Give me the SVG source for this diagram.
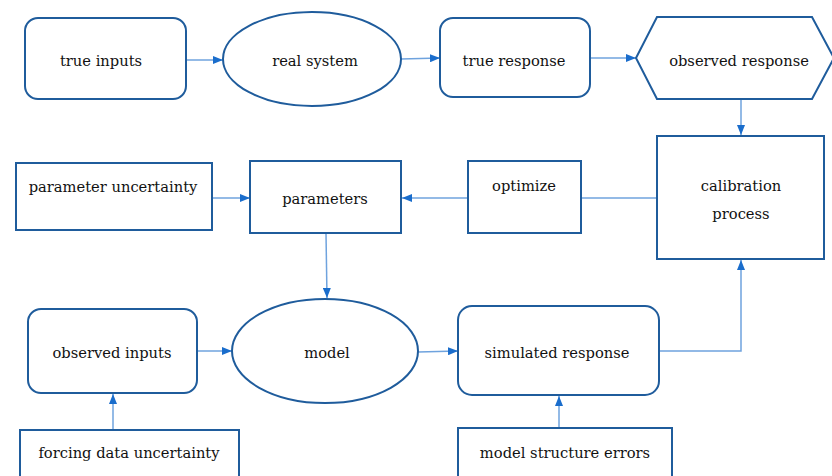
<svg xmlns="http://www.w3.org/2000/svg" width="832" height="476" viewBox="0 0 832 476">
<style>
.n{fill:#fff;stroke:#1f5c9c;stroke-width:2}
text{font-family:'DejaVu Serif',serif;font-size:14.7px;fill:#111;text-anchor:middle}
.c{fill:none;stroke:#6fa3de;stroke-width:1.5}
</style>
<defs>
<marker id="ah" markerWidth="10" markerHeight="8" refX="10" refY="4" orient="auto" markerUnits="userSpaceOnUse">
<path d="M0,0 L10,4 L0,8 Z" fill="#1a6dcc"/>
</marker>
</defs>
<rect width="832" height="476" fill="#fff"/>
<g id="connectors">
<line class="c" x1="186" y1="60" x2="223" y2="60" marker-end="url(#ah)"/>
<line class="c" x1="401" y1="59" x2="440" y2="58" marker-end="url(#ah)"/>
<line class="c" x1="590" y1="58" x2="636" y2="58" marker-end="url(#ah)"/>
<line class="c" x1="741" y1="100" x2="741" y2="135" marker-end="url(#ah)"/>
<line class="c" x1="657" y1="198" x2="581" y2="198"/>
<line class="c" x1="468" y1="198" x2="402" y2="198" marker-end="url(#ah)"/>
<line class="c" x1="212" y1="198" x2="250" y2="198" marker-end="url(#ah)"/>
<line class="c" x1="326" y1="233" x2="327" y2="298" marker-end="url(#ah)"/>
<line class="c" x1="197" y1="351" x2="232" y2="351" marker-end="url(#ah)"/>
<line class="c" x1="113" y1="430" x2="113" y2="394" marker-end="url(#ah)"/>
<line class="c" x1="418" y1="352" x2="458" y2="351" marker-end="url(#ah)"/>
<polyline class="c" points="659,351 741,351 741,260" marker-end="url(#ah)"/>
<line class="c" x1="559" y1="428" x2="559" y2="396" marker-end="url(#ah)"/>
</g>
<g id="true-inputs"><rect class="n" x="25" y="18" width="161" height="81" rx="13"/><text x="101" y="66">true inputs</text></g>
<g id="real-system"><ellipse class="n" cx="312" cy="59" rx="89" ry="47"/><text x="315" y="66">real system</text></g>
<g id="true-response"><rect class="n" x="440" y="18" width="150" height="79" rx="13"/><text x="514" y="66">true response</text></g>
<g id="observed-response"><polygon class="n" points="636,58 657,17 812,17 834,58 812,99 657,99"/><text x="739" y="66">observed response</text></g>
<g id="calibration-process"><rect class="n" x="657" y="136" width="167" height="123"/><text x="741" y="191">calibration</text><text x="741" y="219">process</text></g>
<g id="optimize"><rect class="n" x="468" y="161" width="113" height="72"/><text x="524" y="191">optimize</text></g>
<g id="parameters"><rect class="n" x="250" y="161" width="151" height="72"/><text x="325" y="204">parameters</text></g>
<g id="parameter-uncertainty"><rect class="n" x="16" y="163" width="196" height="67"/><text x="113" y="192">parameter uncertainty</text></g>
<g id="model"><ellipse class="n" cx="325" cy="351" rx="93" ry="52"/><text x="327" y="358">model</text></g>
<g id="observed-inputs"><rect class="n" x="28" y="309" width="169" height="84" rx="13"/><text x="112" y="358">observed inputs</text></g>
<g id="simulated-response"><rect class="n" x="458" y="306" width="201" height="89" rx="14"/><text x="557" y="358">simulated response</text></g>
<g id="forcing-data-uncertainty"><rect class="n" x="20" y="430" width="219" height="60"/><text x="129" y="458">forcing data uncertainty</text></g>
<g id="model-structure-errors"><rect class="n" x="458" y="428" width="214" height="60"/><text x="565" y="458">model structure errors</text></g>
</svg>
